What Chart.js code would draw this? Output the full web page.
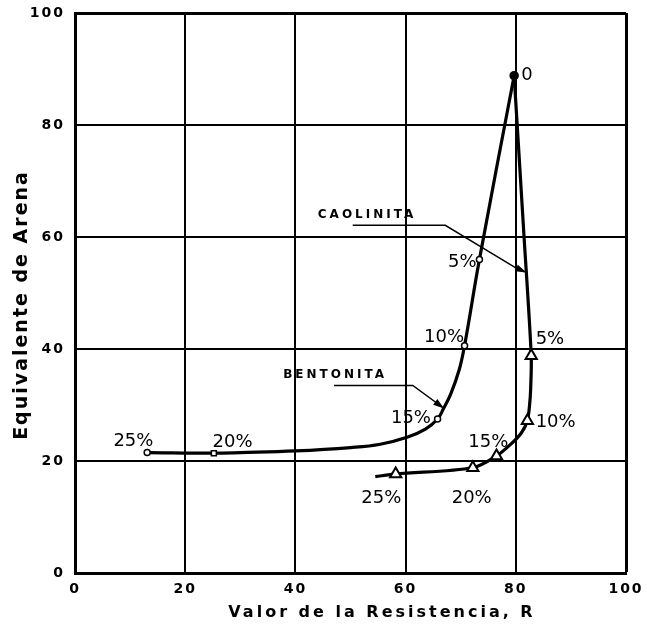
<!DOCTYPE html>
<html>
<head>
<meta charset="utf-8">
<script src="https://cdn.jsdelivr.net/npm/chart.js@4/dist/chart.umd.min.js"></script>
<style>
  html, body { margin: 0; padding: 0; background: #fff; }
  #wrap { width: 647px; height: 633px; }
</style>
</head>
<body>
<div id="wrap"><canvas id="myChart" width="647" height="633"></canvas></div>
<script>
// Valores: R en x, equivalente de arena en y
const bentonitaR   = [79.7, 73.4, 70.7, 65.8, 25.2, 13.1];
const bentonitaEA  = [88.8, 56.0, 40.6, 27.5, 21.4, 21.5];
const bentonitaPct = ['0', '5%', '10%', '15%', '20%', '25%'];

const caolinitaR   = [82.8, 82.1, 76.5, 72.2, 58.2];
const caolinitaEA  = [38.8, 27.2, 20.9, 18.8, 17.7];
const caolinitaPct = ['5%', '10%', '15%', '20%', '25%'];

// trazo de las curvas (puntos leidos sobre la linea dibujada)
const curvaBentonitaR  = [79.7, 73.4, 70.7, 69.7, 68.2, 66.9, 65.8, 63.6, 60.4, 55.4, 50.0, 40.0, 30.0, 25.2, 13.1];
const curvaBentonitaEA = [88.8, 56.0, 40.6, 36.2, 32.0, 29.4, 27.5, 25.7, 24.3, 23.0, 22.4, 21.8, 21.5, 21.4, 21.5];
const curvaCaolinitaR  = [79.7, 81.5, 82.8, 82.7, 82.5, 82.1, 81.0, 79.1, 76.5, 72.2, 58.2, 54.5];
const curvaCaolinitaEA = [88.8, 60.0, 38.8, 33.0, 30.0, 27.2, 25.0, 23.0, 20.9, 18.8, 17.7, 17.2];

// lineas de llamada de los nombres
const flechaCaolinitaR  = [50.4, 67.2, 80.0, 81.6];
const flechaCaolinitaEA = [62.1, 62.1, 54.5, 53.8];
const flechaBentonitaR  = [47.0, 61.3, 66.7];
const flechaBentonitaEA = [33.5, 33.5, 29.6];

const xTicks = [0, 20, 40, 60, 80, 100];
const yTicks = [0, 20, 40, 60, 80, 100];

const xTitulo = 'Valor de la Resistencia, R';
const yTitulo = 'Equivalente de Arena';

// rotulos de porcentaje y nombres (en unidades de los ejes)
const rotulos = [
    {texto: bentonitaPct[0], r: 81.0, ea: 88.8, align: 'left'},
    {texto: bentonitaPct[1], r: 72.9, ea: 55.4, align: 'right'},
    {texto: bentonitaPct[2], r: 70.6, ea: 42.0, align: 'right'},
    {texto: bentonitaPct[3], r: 64.6, ea: 27.6, align: 'right'},
    {texto: bentonitaPct[4], r: 28.6, ea: 23.3, align: 'center'},
    {texto: bentonitaPct[5], r: 10.6, ea: 23.6, align: 'center'},
    {texto: caolinitaPct[0], r: 83.6, ea: 41.7, align: 'left'},
    {texto: caolinitaPct[1], r: 83.6, ea: 26.9, align: 'left'},
    {texto: caolinitaPct[2], r: 75.0, ea: 23.3, align: 'center'},
    {texto: caolinitaPct[3], r: 72.0, ea: 13.4, align: 'center'},
    {texto: caolinitaPct[4], r: 55.6, ea: 13.4, align: 'center'},
];
const nombres = [
    {texto: 'CAOLINITA', r: 53.0, ea: 63.9},
    {texto: 'BENTONITA', r: 47.2, ea: 35.3},
];

const puntos = (xs, ys) => xs.map((x, i) => ({x: x, y: ys[i]}));

const FUENTE = '"DejaVu Sans", sans-serif';

const espaciado = {
    id: 'espaciado',
    beforeDraw: (chart) => {
        chart.ctx.letterSpacing = '2px';
    }
};

const flechas = {
    id: 'flechas',
    afterDatasetsDraw: (chart) => {
        const ctx = chart.ctx;
        chart.data.datasets.forEach((ds, i) => {
            if (!ds.flecha) return;
            const pts = chart.getDatasetMeta(i).data;
            const a = pts[pts.length - 2];
            const b = pts[pts.length - 1];
            const ang = Math.atan2(b.y - a.y, b.x - a.x);
            ctx.save();
            ctx.translate(b.x, b.y);
            ctx.rotate(ang);
            ctx.beginPath();
            ctx.moveTo(2, 0);
            ctx.lineTo(-9, -3.5);
            ctx.lineTo(-9, 3.5);
            ctx.closePath();
            ctx.fillStyle = '#000';
            ctx.fill();
            ctx.restore();
        });
    }
};

const textos = {
    id: 'textos',
    afterDraw: (chart) => {
        const ctx = chart.ctx;
        const xs = chart.scales.x;
        const ys = chart.scales.y;
        ctx.save();
        ctx.fillStyle = '#000';
        ctx.textBaseline = 'middle';

        ctx.font = '18px ' + FUENTE;
        ctx.letterSpacing = '0px';
        rotulos.forEach(t => {
            ctx.textAlign = t.align;
            ctx.fillText(t.texto, xs.getPixelForValue(t.r), ys.getPixelForValue(t.ea));
        });

        ctx.font = 'bold 12px ' + FUENTE;
        ctx.letterSpacing = '3px';
        ctx.textAlign = 'center';
        nombres.forEach(t => {
            ctx.fillText(t.texto, xs.getPixelForValue(t.r), ys.getPixelForValue(t.ea));
        });

        // titulos de los ejes
        ctx.font = 'bold 16px ' + FUENTE;
        ctx.letterSpacing = '3px';
        ctx.fillText(xTitulo, 382, 613);

        ctx.font = 'bold 19px ' + FUENTE;
        ctx.letterSpacing = '2px';
        ctx.translate(22, 305);
        ctx.rotate(-Math.PI / 2);
        ctx.fillText(yTitulo, 0, 0);
        ctx.restore();
    }
};

const ctx = document.getElementById('myChart').getContext('2d');

new Chart(ctx, {
    type: 'scatter',
    data: {
        datasets: [
            {
                label: 'Bentonita',
                data: puntos(bentonitaR, bentonitaEA),
                pointStyle: ['circle', 'circle', 'circle', 'circle', 'rect', 'circle'],
                pointRadius: [4, 3, 3, 3, 3.5, 3],
                pointBackgroundColor: ['#000', '#fff', '#fff', '#fff', '#fff', '#fff'],
                pointBorderColor: '#000',
                pointBorderWidth: 1.5,
                showLine: false
            },
            {
                label: 'Caolinita',
                data: puntos(caolinitaR, caolinitaEA),
                pointStyle: 'triangle',
                pointRadius: 6.5,
                pointBackgroundColor: '#fff',
                pointBorderColor: '#000',
                pointBorderWidth: 2,
                showLine: false
            },
            {
                label: 'curva bentonita',
                data: puntos(curvaBentonitaR, curvaBentonitaEA),
                showLine: true,
                borderColor: '#000',
                borderWidth: 3.2,
                tension: 0.4,
                pointRadius: 0
            },
            {
                label: 'curva caolinita',
                data: puntos(curvaCaolinitaR, curvaCaolinitaEA),
                showLine: true,
                borderColor: '#000',
                borderWidth: 3.2,
                tension: 0.3,
                pointRadius: 0
            },
            {
                label: 'llamada caolinita',
                data: puntos(flechaCaolinitaR, flechaCaolinitaEA),
                showLine: true,
                flecha: true,
                borderColor: '#000',
                borderWidth: 1.5,
                pointRadius: 0
            },
            {
                label: 'llamada bentonita',
                data: puntos(flechaBentonitaR, flechaBentonitaEA),
                showLine: true,
                flecha: true,
                borderColor: '#000',
                borderWidth: 1.5,
                pointRadius: 0
            }
        ]
    },
    options: {
        responsive: false,
        animation: false,
        layout: {padding: {top: 13, right: 21, left: 0, bottom: 0}},
        plugins: {
            legend: {display: false},
            tooltip: {enabled: false}
        },
        scales: {
            x: {
                type: 'linear',
                min: 0,
                max: 100,
                afterBuildTicks: (scale) => { scale.ticks = xTicks.map(v => ({value: v})); },
                afterFit: (scale) => { scale.height = 60; scale.paddingLeft = 0; scale.paddingRight = 0; },
                ticks: {
                    color: '#000',
                    padding: 8,
                    font: {family: FUENTE, size: 14, weight: 'bold'}
                },
                grid: {
                    color: '#000',
                    lineWidth: (c) => c.tick && c.tick.value === 100 ? 3 : 2,
                    drawTicks: false
                },
                border: {color: '#000', width: 3}
            },
            y: {
                type: 'linear',
                min: 0,
                max: 100,
                afterBuildTicks: (scale) => { scale.ticks = yTicks.map(v => ({value: v})); },
                afterFit: (scale) => { scale.width = 75; scale.paddingTop = 0; scale.paddingBottom = 0; },
                ticks: {
                    color: '#000',
                    padding: 10,
                    font: {family: FUENTE, size: 14, weight: 'bold'}
                },
                grid: {
                    color: '#000',
                    lineWidth: (c) => c.tick && c.tick.value === 100 ? 3 : 2,
                    drawTicks: false
                },
                border: {color: '#000', width: 3}
            }
        }
    },
    plugins: [espaciado, flechas, textos]
});
</script>
</body>
</html>
